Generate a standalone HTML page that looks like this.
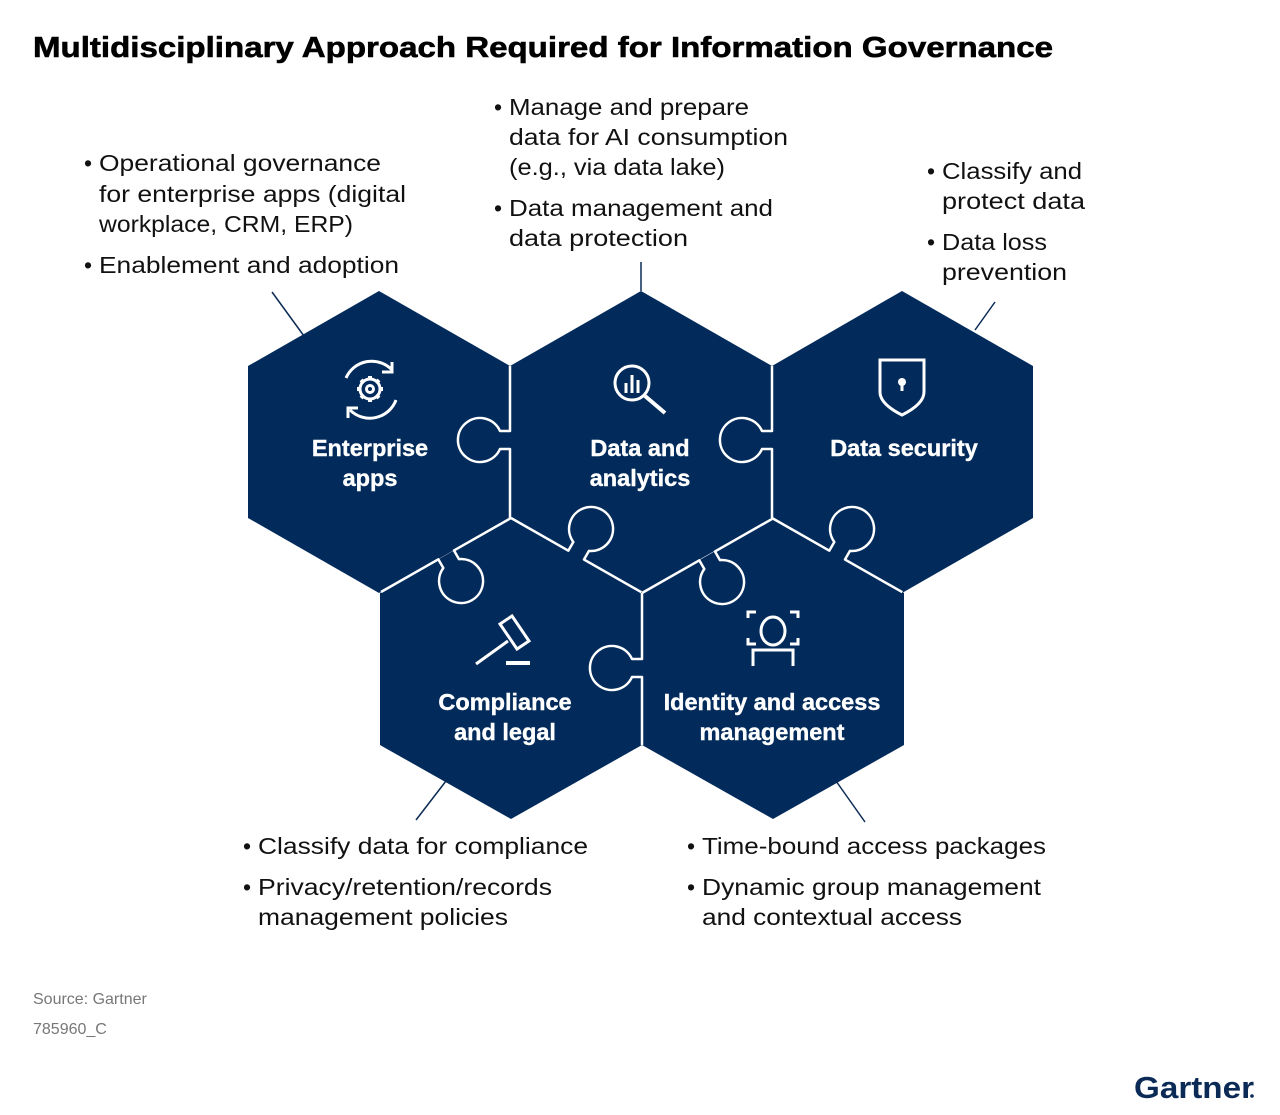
<!DOCTYPE html>
<html><head><meta charset="utf-8"><style>
html,body{margin:0;padding:0;background:#fff;}
svg{display:block;font-family:"Liberation Sans",sans-serif;}
.b{font-size:23px;fill:#111;}
.h{font-size:23.5px;font-weight:bold;fill:#fff;text-anchor:middle;stroke:#fff;stroke-width:0.4;}
</style></head><body>
<svg width="1280" height="1115" viewBox="0 0 1280 1115">
<text x="33" y="57" font-size="29" font-weight="bold" fill="#000" stroke="#000" stroke-width="0.6" textLength="1020" lengthAdjust="spacingAndGlyphs">Multidisciplinary Approach Required for Information Governance</text>

<g class="b">
<text x="84" y="171">•</text>
<text x="99" y="171" textLength="282" lengthAdjust="spacingAndGlyphs">Operational governance</text>
<text x="99" y="202" textLength="307" lengthAdjust="spacingAndGlyphs">for enterprise apps (digital</text>
<text x="99" y="232" textLength="254" lengthAdjust="spacingAndGlyphs">workplace, CRM, ERP)</text>
<text x="84" y="273">•</text>
<text x="99" y="273" textLength="300" lengthAdjust="spacingAndGlyphs">Enablement and adoption</text>

<text x="494" y="115">•</text>
<text x="509" y="115" textLength="240" lengthAdjust="spacingAndGlyphs">Manage and prepare</text>
<text x="509" y="145" textLength="279" lengthAdjust="spacingAndGlyphs">data for AI consumption</text>
<text x="509" y="175" textLength="216" lengthAdjust="spacingAndGlyphs">(e.g., via data lake)</text>
<text x="494" y="216">•</text>
<text x="509" y="216" textLength="264" lengthAdjust="spacingAndGlyphs">Data management and</text>
<text x="509" y="246" textLength="179" lengthAdjust="spacingAndGlyphs">data protection</text>

<text x="927" y="179">•</text>
<text x="942" y="179" textLength="140" lengthAdjust="spacingAndGlyphs">Classify and</text>
<text x="942" y="209" textLength="143" lengthAdjust="spacingAndGlyphs">protect data</text>
<text x="927" y="250">•</text>
<text x="942" y="250" textLength="105" lengthAdjust="spacingAndGlyphs">Data loss</text>
<text x="942" y="280" textLength="125" lengthAdjust="spacingAndGlyphs">prevention</text>

<text x="243" y="854">•</text>
<text x="258" y="854" textLength="330" lengthAdjust="spacingAndGlyphs">Classify data for compliance</text>
<text x="243" y="895">•</text>
<text x="258" y="895" textLength="294" lengthAdjust="spacingAndGlyphs">Privacy/retention/records</text>
<text x="258" y="925" textLength="250" lengthAdjust="spacingAndGlyphs">management policies</text>

<text x="687" y="854">•</text>
<text x="702" y="854" textLength="344" lengthAdjust="spacingAndGlyphs">Time-bound access packages</text>
<text x="687" y="895">•</text>
<text x="702" y="895" textLength="339" lengthAdjust="spacingAndGlyphs">Dynamic group management</text>
<text x="702" y="925" textLength="260" lengthAdjust="spacingAndGlyphs">and contextual access</text>
</g>

<g stroke="#0b2a55" stroke-width="1.5">
<line x1="272" y1="292" x2="304" y2="336"/>
<line x1="641" y1="262" x2="641" y2="291"/>
<line x1="995" y1="302" x2="975" y2="330"/>
<line x1="446" y1="781" x2="416" y2="820"/>
<line x1="836" y1="781" x2="865" y2="822"/>
</g>

<g fill="#022a5a">
<polygon points="379,291 510,366 510,518 379,593 248,518 248,366"/>
<polygon points="641,291 772,366 772,518 641,593 510,518 510,366"/>
<polygon points="902,291 1033,366 1033,518 902,593 772,518 772,366"/>
<polygon points="511,518 642,593 642,745 511,819 380,745 380,593"/>
<polygon points="773,518 904,593 904,745 773,819 642,745 642,593"/>
</g>

<g fill="#022a5a" stroke="#fff" stroke-width="2.5" stroke-linejoin="round">
<path d="M510 366 L510 431 L500 431 A22 22 0 1 0 500 449 L510 449 L510 518"/>
<path d="M772 366 L772 431 L762 431 A22 22 0 1 0 762 449 L772 449 L772 518"/>
<path d="M642 593 L642 659 L632 659 A22 22 0 1 0 632 677 L642 677 L642 745"/>
<g transform="translate(381,592) rotate(-29.65)"><path d="M0 0 L66 0 L66 10 A22 22 0 1 0 84 10 L84 0 L150 0"/></g>
<g transform="translate(511,518) rotate(29.65)"><path d="M0 0 L66 0 L66 -10 A22 22 0 1 1 84 -10 L84 0 L150 0"/></g>
<g transform="translate(642,593) rotate(-29.65)"><path d="M0 0 L66 0 L66 10 A22 22 0 1 0 84 10 L84 0 L150 0"/></g>
<g transform="translate(772,518) rotate(29.65)"><path d="M0 0 L66 0 L66 -10 A22 22 0 1 1 84 -10 L84 0 L150 0"/></g>
</g>

<text class="h" x="370" y="456">Enterprise</text>
<text class="h" x="370" y="486">apps</text>
<text class="h" x="640" y="456">Data and</text>
<text class="h" x="640" y="486">analytics</text>
<text class="h" x="904" y="456">Data security</text>
<text class="h" x="505" y="710">Compliance</text>
<text class="h" x="505" y="740">and legal</text>
<text class="h" x="772" y="710">Identity and access</text>
<text class="h" x="772" y="740">management</text>

<g fill="none" stroke="#fff" stroke-width="3">
<path d="M346 378 A28 28 0 0 1 392 370"/>
<path d="M396 400 A28 28 0 0 1 350 410"/>
<path d="M392 362 L392 372 L382 372" />
<path d="M348 418 L348 408 L358 408" />
<circle cx="370" cy="389" r="10"/>
<circle cx="370" cy="389" r="3.5"/>
<g stroke-width="4"><line x1="370" y1="376" x2="370" y2="380"/><line x1="370" y1="398" x2="370" y2="402"/><line x1="357" y1="389" x2="361" y2="389"/><line x1="379" y1="389" x2="383" y2="389"/>
<line x1="361" y1="380" x2="364" y2="383"/><line x1="376" y1="395" x2="379" y2="398"/><line x1="361" y1="398" x2="364" y2="395"/><line x1="376" y1="383" x2="379" y2="380"/></g>
<circle cx="632" cy="383" r="17"/>
<line x1="645" y1="396" x2="665" y2="413" stroke-width="4"/>
<line x1="626" y1="393" x2="626" y2="383"/><line x1="632" y1="393" x2="632" y2="375"/><line x1="638" y1="393" x2="638" y2="380"/>
<path d="M880 360 L924 360 L924 392 Q924 404 902 415 Q880 404 880 392 Z"/>
<path d="M500 624 L512 616 L529 641 L517 649 Z"/>
<line x1="508" y1="641" x2="476" y2="664"/>
<line x1="506" y1="663" x2="530" y2="663" stroke-width="4"/>
<ellipse cx="773" cy="631" rx="12" ry="14"/>
<path d="M748 618 L748 612 L756 612 M790 612 L798 612 L798 618 M748 638 L748 644 L756 644 M790 644 L798 644 L798 638"/>
<path d="M753 666 L753 650 L793 650 L793 666"/>
</g>
<circle cx="902" cy="382" r="4" fill="#fff"/><rect x="900.5" y="382" width="3" height="9" fill="#fff"/>

<text x="33" y="1004" font-size="16" fill="#777">Source: Gartner</text>
<text x="33" y="1034" font-size="16" fill="#777">785960_C</text>
<text x="1134" y="1098" font-size="31" font-weight="bold" fill="#0b2a55" textLength="120" lengthAdjust="spacingAndGlyphs">Gartner</text>
<circle cx="1252" cy="1096" r="1.8" fill="#0b2a55"/>
</svg>
</body></html>
